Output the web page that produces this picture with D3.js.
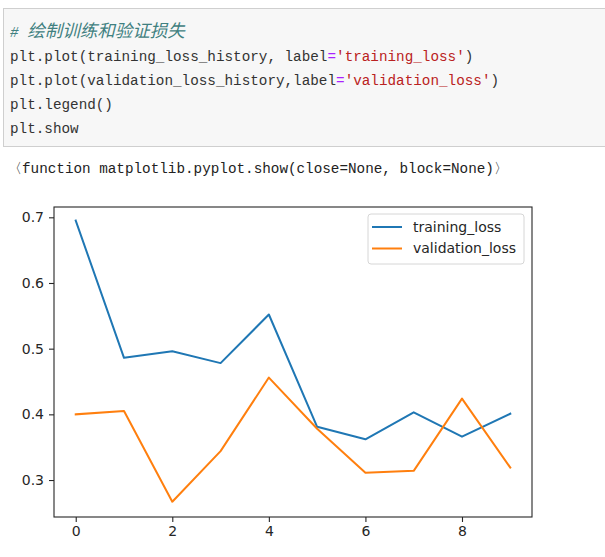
<!DOCTYPE html>
<html>
<head>
<meta charset="utf-8">
<script src="https://cdn.jsdelivr.net/npm/d3@7"></script>
<style>
body{margin:0;background:#fff;}
svg text{font-family:"DejaVu Sans",sans-serif;}
.code{font-family:"Liberation Mono",monospace;font-size:14.3px;fill:#333;}
</style>
</head>
<body>
<div id="chart"></div>
<script>
// data
var epochs = [0,1,2,3,4,5,6,7,8,9];
var training_loss = [0.695,0.486,0.496,0.478,0.552,0.381,0.362,0.403,0.366,0.401];
var validation_loss = [0.400,0.405,0.267,0.344,0.456,0.378,0.311,0.314,0.424,0.319];
var seriesNames = ["training_loss","validation_loss"];
var seriesColors = ["#1f77b4","#ff7f0e"];
var xTicks = [0,2,4,6,8];
var yTicks = [0.3,0.4,0.5,0.6,0.7];

// notebook cell text
var codeLines = [
  [["# ","#408080","italic"],["绘制训练和验证损失","#408080","cjk"]],
  [["plt.plot(training_loss_history, label","#333"],["=","#AA22FF"],["'training_loss'","#BA2121"],[")","#333"]],
  [["plt.plot(validation_loss_history,label","#333"],["=","#AA22FF"],["'validation_loss'","#BA2121"],[")","#333"]],
  [["plt.legend()","#333"]],
  [["plt.show","#333"]]
];
var outLine = "\u3008function matplotlib.pyplot.show(close=None, block=None)\u3009";

var W = 605, H = 557;
var svg = d3.select("#chart").append("svg")
  .attr("width",W).attr("height",H);

// code cell
svg.append("rect").attr("x",3.5).attr("y",8.5).attr("width",610).attr("height",138)
  .attr("fill","#f7f7f7").attr("stroke","#cfcfcf");

codeLines.forEach(function(line,i){
  var t = svg.append("text").attr("class","code")
    .attr("x",10).attr("y",37+i*24);
  line.forEach(function(seg){
    var ts = t.append("tspan").text(seg[0]).style("fill",seg[1]);
    if(seg[2]=="italic") ts.style("font-style","italic");
    if(seg[2]=="cjk"){
      ts.style("font-style","italic")
        .style("font-family","'Noto Sans CJK SC',sans-serif")
        .style("font-size","17.5px");
    }
  });
});

svg.append("text").attr("class","code")
  .attr("x",8).attr("y",173)
  .style("fill","#222")
  .text(outLine);

// chart
var margin = {left:54, top:207, right:532, bottom:517};
var x = d3.scaleLinear().domain([-0.45,9.45]).range([margin.left,margin.right]);
var y = d3.scaleLinear().domain([0.2437,0.7157]).range([margin.bottom,margin.top]);

var xAxis = svg.append("g").attr("transform","translate(0,"+margin.bottom+")")
  .call(d3.axisBottom(x).tickValues(xTicks).tickFormat(d3.format("d")).tickSize(5).tickSizeOuter(0).tickPadding(4));
var yAxis = svg.append("g").attr("transform","translate("+margin.left+",0)")
  .call(d3.axisLeft(y).tickValues(yTicks).tickFormat(d3.format(".1f")).tickSize(5).tickSizeOuter(0).tickPadding(5));
[xAxis,yAxis].forEach(function(a){
  a.select(".domain").remove();
  a.selectAll("text").style("font-size","14px").style("fill","#262626").style("font-family","DejaVu Sans");
  a.selectAll("line").attr("stroke","#262626").attr("stroke-width",1.1);
});

var series = [training_loss, validation_loss];
var line = d3.line()
  .x(function(d,i){ return x(epochs[i]); })
  .y(function(d){ return y(d); });

series.forEach(function(s,k){
  svg.append("path").datum(s)
    .attr("d",line)
    .attr("fill","none")
    .attr("stroke",seriesColors[k])
    .attr("stroke-width",2)
    .attr("stroke-linejoin","round")
    .attr("stroke-linecap","square");
});

// spines
svg.append("rect")
  .attr("x",margin.left).attr("y",margin.top)
  .attr("width",margin.right-margin.left).attr("height",margin.bottom-margin.top)
  .attr("fill","none").attr("stroke","#262626").attr("stroke-width",1.1);

// legend
var lg = svg.append("g").attr("transform","translate(368,214)");
lg.append("rect").attr("width",156).attr("height",50).attr("rx",3)
  .attr("fill","#fff").attr("fill-opacity",0.8)
  .attr("stroke","#d6d6d6");
seriesNames.forEach(function(n,i){
  lg.append("line").attr("x1",4).attr("x2",34)
    .attr("y1",13+i*21.5).attr("y2",13+i*21.5)
    .attr("stroke",seriesColors[i]).attr("stroke-width",2);
  lg.append("text").attr("x",45).attr("y",13+i*21.5).attr("dy","0.35em")
    .style("font-size","14px").style("fill","#262626")
    .text(n);
});
</script>
</body>
</html>
